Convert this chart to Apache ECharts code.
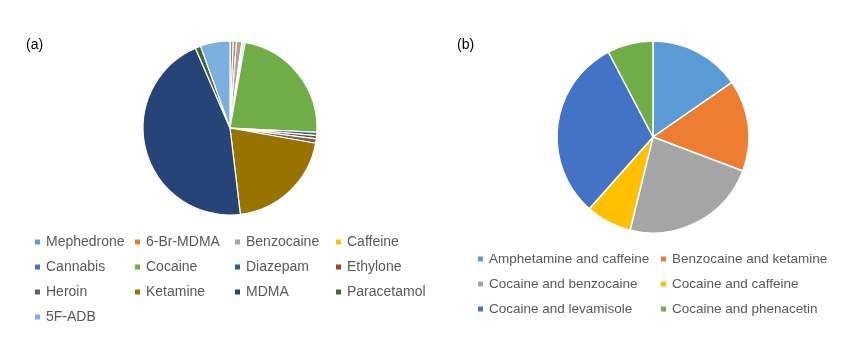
<!DOCTYPE html>
<html>
<head>
<meta charset="utf-8">
<script src="https://cdn.jsdelivr.net/npm/echarts@6/dist/echarts.min.js"></script>
<style>
  html, body { margin: 0; padding: 0; background: #fff; }
  #chart { width: 852px; height: 340px; }
</style>
</head>
<body>
<div id="chart"></div>
<script>
// (a) single substances, share of samples (%)
const substancesA = ['Mephedrone', '6-Br-MDMA', 'Benzocaine', 'Caffeine', 'Cannabis', 'Cocaine',
  'Diazepam', 'Ethylone', 'Heroin', 'Ketamine', 'MDMA', 'Paracetamol', '5F-ADB'];
const sharesA = [0.6, 0.6, 1.0, 0.3, 0.3, 23.0, 0.6, 0.6, 0.8, 20.3, 45.4, 1.0, 5.5];
const coloursA = ['#5B9BD5', '#ED7D31', '#A5A5A5', '#FFC000', '#4472C4', '#70AD47',
  '#255E91', '#9E480E', '#636363', '#997300', '#264478', '#43682B', '#7CAFDD'];

// (b) mixtures, number of samples
const mixturesB = ['Amphetamine and caffeine', 'Benzocaine and ketamine', 'Cocaine and benzocaine',
  'Cocaine and caffeine', 'Cocaine and levamisole', 'Cocaine and phenacetin'];
const countsB = [2, 2, 3, 1, 4, 1];
const coloursB = ['#5B9BD5', '#ED7D31', '#A5A5A5', '#FFC000', '#4472C4', '#70AD47'];

function columnLegend(names, left, top, fontSize) {
  return {
    data: names, orient: 'vertical', left: left, top: top,
    icon: 'rect', itemWidth: 7, itemHeight: 7, itemGap: 9,
    textStyle: { color: '#595959', fontSize: fontSize, fontFamily: 'Liberation Sans', lineHeight: 16 },
    padding: 0, selectedMode: false
  };
}

// legend columns for panel (a): items flow row by row, four per row
const colsA = [[], [], [], []];
substancesA.forEach((n, i) => colsA[i % 4].push(n));
const colLeftA = [33, 133, 233, 334];
// legend columns for panel (b): two per row
const colsB = [[], []];
mixturesB.forEach((n, i) => colsB[i % 2].push(n));
const colLeftB = [476, 659];

const chart = echarts.init(document.getElementById('chart'));
chart.setOption({
  animation: false,
  graphic: [
    { type: 'text', left: 26, top: 38, style: { text: '(a)', fontSize: 14, fontFamily: 'Liberation Sans', fill: '#000' } },
    { type: 'text', left: 457, top: 38, style: { text: '(b)', fontSize: 14, fontFamily: 'Liberation Sans', fill: '#000' } }
  ],
  legend: [
    ...colsA.map((c, i) => columnLegend(c, colLeftA[i], 234, 14)),
    ...colsB.map((c, i) => columnLegend(c, colLeftB[i], 251, 13.5))
  ],
  series: [
    {
      type: 'pie', center: [230, 128], radius: 87, startAngle: 90, clockwise: true,
      label: { show: false }, labelLine: { show: false },
      itemStyle: { borderColor: '#fff', borderWidth: 1.2 },
      data: substancesA.map((n, i) => ({ name: n, value: sharesA[i], itemStyle: { color: coloursA[i] } }))
    },
    {
      type: 'pie', center: [653, 137], radius: 96, startAngle: 90, clockwise: true,
      label: { show: false }, labelLine: { show: false },
      itemStyle: { borderColor: '#fff', borderWidth: 1.5 },
      data: mixturesB.map((n, i) => ({ name: n, value: countsB[i], itemStyle: { color: coloursB[i] } }))
    }
  ]
});
</script>
</body>
</html>
